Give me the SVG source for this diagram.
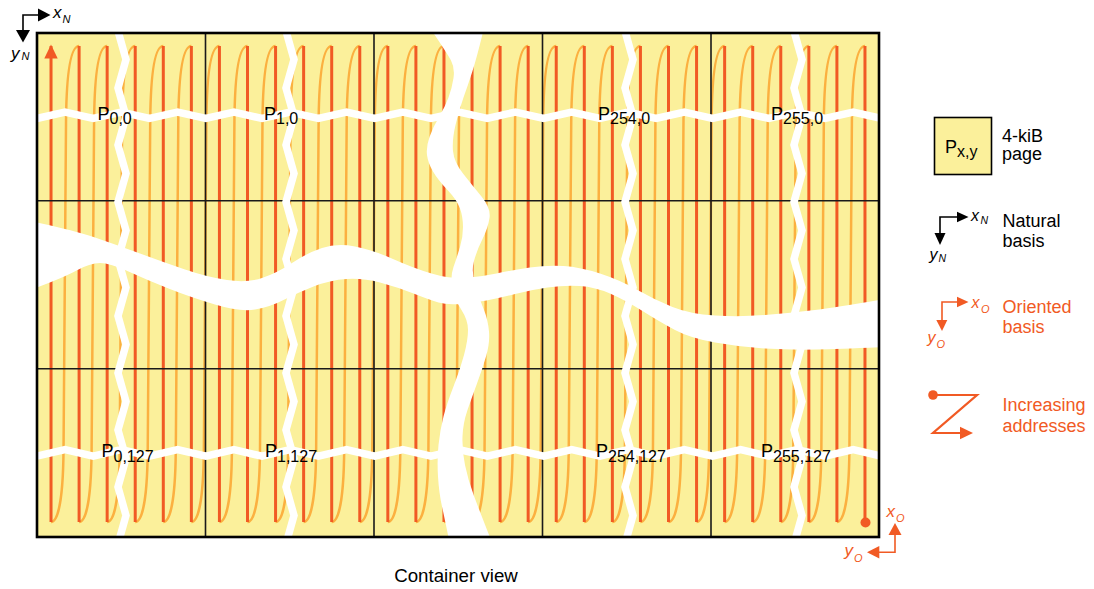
<svg xmlns="http://www.w3.org/2000/svg" width="1094" height="589" viewBox="0 0 1094 589">
<defs>
<style>
.red{stroke:#f15a24;stroke-width:3;fill:none}
.org{stroke:#fbb040;stroke-width:2.5;fill:none}
.grid{stroke:#1a1a1a;stroke-width:1.6;fill:none}
.wz{stroke:#fff;stroke-width:7.5;fill:none;stroke-linejoin:miter}
.wb{fill:#fff;stroke:none}
.t{font-family:"Liberation Sans",Arial,Helvetica,sans-serif;font-size:18px;fill:#000}
.sub{font-size:16px}
.it{font-style:italic}
.o{fill:#f15a24}
.ax{stroke:#000;stroke-width:1.6;fill:none}
.axo{stroke:#f15a24;stroke-width:1.6;fill:none}
</style>
<clipPath id="clip"><rect x="37" y="33" width="842" height="504"/></clipPath>
<g id="unit"><path class="org" d="M0,522 C6,522 12,505 12.5,450 L15,120 C15.5,75 19,46 28.07,46"/><path class="red" d="M0,46 V522"/></g>
<path id="vz" class="wz" d="M117,20 L118,31 L126,59.5 L118,88 L126,116.5 L118,145 L126,173.5 L118,202 L126,230.5 L118,259 L126,287.5 L118,316 L126,344.5 L118,373 L126,401.5 L118,430 L126,458.5 L118,487 L126,515.5 L118,544 L119,550"/>
<path id="hz" class="wz" d="M20,122 L36.8,118.5 L65,112 L93.2,118.5 L121.3,112 L149.5,118.5 L177.6,112 L205.8,118.5 L233.9,112 L262.1,118.5 L290.2,112 L318.4,118.5 L346.5,112 L374.7,118.5 L402.8,112 L431,118.5 L459.1,112 L487.3,118.5 L515.4,112 L543.6,118.5 L571.7,112 L599.9,118.5 L628,112 L656.2,118.5 L684.3,112 L712.5,118.5 L740.6,112 L768.8,118.5 L796.9,112 L825.1,118.5 L853.2,112 L881.4,118.5 L900,114"/>
</defs>

<g id="container">
<rect x="37" y="33" width="842" height="504" fill="#fbf09b"/>
<g clip-path="url(#clip)">
<g id="scan">
<use href="#unit" x="51.03"/><use href="#unit" x="79.10"/><use href="#unit" x="107.16"/><use href="#unit" x="135.23"/><use href="#unit" x="163.30"/><use href="#unit" x="191.37"/>
<use href="#unit" x="219.43"/><use href="#unit" x="247.50"/><use href="#unit" x="275.57"/><use href="#unit" x="303.63"/><use href="#unit" x="331.70"/><use href="#unit" x="359.77"/>
<use href="#unit" x="387.83"/><use href="#unit" x="415.90"/><use href="#unit" x="443.97"/><use href="#unit" x="472.04"/><use href="#unit" x="500.10"/><use href="#unit" x="528.17"/>
<use href="#unit" x="556.24"/><use href="#unit" x="584.30"/><use href="#unit" x="612.37"/><use href="#unit" x="640.44"/><use href="#unit" x="668.50"/><use href="#unit" x="696.57"/>
<use href="#unit" x="724.64"/><use href="#unit" x="752.71"/><use href="#unit" x="780.77"/><use href="#unit" x="808.84"/><use href="#unit" x="836.91"/>
<path class="red" d="M864.97,46 V522"/>
<polygon points="51,44.5 44.3,58.5 57.7,58.5" fill="#f15a24"/>
<circle cx="865.5" cy="522.5" r="5" fill="#f15a24"/>
</g>
<g id="grid">
<path class="grid" d="M205.5,33 V537 M374,33 V537 M542.5,33 V537 M711,33 V537 M37,200.7 H879 M37,368.7 H879"/>
</g>
<g id="breaks">
<path class="wb" d="M30,221 Q73,230 95,237.5 Q117,245 140,253.5 Q163,262 185,269.5 Q207,277 227,280 Q247,283 262,278 Q277,273 292,263 Q307,253 322,248 Q337,243 355,246.5 Q373,250 393,259 Q413,268 431.5,273.5 Q450,279 465,278 Q480,277 496.5,273.5 Q513,270 530,267.5 Q547,265 563.5,266 Q580,267 600,273.5 Q620,280 637.5,290 Q655,300 672.5,307 Q690,314 715,315.5 Q740,317 765,315 Q790,313 815,310 Q840,307 885,299 L885,347 Q840,349 815,349.5 Q790,350 765,348.5 Q740,347 715,342.5 Q690,338 675,330 Q660,322 642.5,311 Q625,300 610,293.5 Q595,287 580,286 Q565,285 547.5,287.5 Q530,290 515,294 Q500,298 486.5,300.5 Q473,303 460,304 Q447,305 438.5,302.5 Q430,300 413.5,293.5 Q397,287 380,282.5 Q363,278 346.5,279 Q330,280 313.5,286.5 Q297,293 283.5,300 Q270,307 255,309.5 Q240,312 215,304.5 Q190,297 168.5,288.5 Q147,280 128.5,271.5 Q110,263 100,263 Q90,263 76.5,270.5 Q63,278 30,290 Z"/>
<path class="wb" d="M430,28 Q447,53 451,60.5 Q455,68 453.5,78 Q452,88 448.5,97.5 Q445,107 439,117 Q433,127 429.5,137 Q426,147 427,155 Q428,163 433,171.5 Q438,180 447.5,190 Q457,200 460,208.5 Q463,217 463,227 Q463,237 460,247 Q457,257 453.5,267 Q450,277 452.5,288.5 Q455,300 461.5,310 Q468,320 468,330 Q468,340 464,355 Q460,370 453.5,386.5 Q447,403 443.5,416.5 Q440,430 438.5,445 Q437,460 438,476.5 Q439,493 442,506.5 Q445,520 449,540 L491,540 Q480,512 474,496 Q468,480 465,465 Q462,450 462.5,436.5 Q463,423 467.5,410 Q472,397 477,383.5 Q482,370 486,356.5 Q490,343 489,331.5 Q488,320 484,310 Q480,300 475.5,286 Q471,272 474,261 Q477,250 482.5,239 Q488,228 489.5,218 Q491,208 481.5,196.5 Q472,185 463,173.5 Q454,162 453,151 Q452,140 455.5,125 Q459,110 463.5,97.5 Q468,85 472.5,71 Q477,57 484,28 Z"/>
<use href="#vz"/>
<use href="#vz" x="168"/>
<use href="#vz" x="507"/>
<use href="#vz" x="676"/>
<use href="#hz"/>
<use href="#hz" y="337.7"/>
</g>
</g>
<rect x="37" y="33" width="842" height="504" fill="none" stroke="#000" stroke-width="2.6"/>
</g>

<g id="labels">
<g id="p0_0"><text class="t" x="97.5" y="120">P<tspan class="sub" dy="4">0,0</tspan></text></g>
<g id="p1_0"><text class="t" x="264" y="120">P<tspan class="sub" dy="4">1,0</tspan></text></g>
<g id="p254_0"><text class="t" x="598" y="120">P<tspan class="sub" dy="4">254,0</tspan></text></g>
<g id="p255_0"><text class="t" x="771" y="120">P<tspan class="sub" dy="4">255,0</tspan></text></g>
<g id="p0_127"><text class="t" x="101.5" y="457">P<tspan class="sub" dy="4.5">0,127</tspan></text></g>
<g id="p1_127"><text class="t" x="265" y="457">P<tspan class="sub" dy="4.5">1,127</tspan></text></g>
<g id="p254_127"><text class="t" x="596" y="457">P<tspan class="sub" dy="4.5">254,127</tspan></text></g>
<g id="p255_127"><text class="t" x="761" y="457">P<tspan class="sub" dy="4.5">255,127</tspan></text></g>
</g>

<g id="natural-axes">
<path class="ax" d="M39,15 H23 V31"/>
<polygon points="38,8.5 50.5,15 38,21.5"/>
<polygon points="16,30 30,30 23,42.5"/>
<text class="t it" x="53" y="18.3" style="font-size:17px">x<tspan dx="1" dy="4.4" style="font-size:11px">N</tspan></text>
<text class="t it" x="11" y="59" style="font-size:17px">y<tspan dx="2" dy="0.5" style="font-size:11px">N</tspan></text>
</g>

<g id="oriented-axes">
<path class="axo" d="M895,535 V552.3 H879"/>
<polygon points="888.5,535 895,523 901.5,535" fill="#f15a24"/>
<polygon points="879.3,546 867,552.3 879.3,558.6" fill="#f15a24"/>
<text class="t it o" x="886.5" y="517.3" style="font-size:17px">x<tspan dx="1" dy="4.4" style="font-size:11px">O</tspan></text>
<text class="t it o" x="844.5" y="556" style="font-size:17px">y<tspan dx="1" dy="5.7" style="font-size:11px">O</tspan></text>
</g>

<text class="t" x="456" y="582" text-anchor="middle" style="font-size:18.7px">Container view</text>

<g id="legend">
<g id="legend-page">
<rect x="934.5" y="117.5" width="57" height="57" fill="#fbf09b" stroke="#000" stroke-width="1.6"/>
<text class="t" x="945" y="153">P<tspan class="sub" dy="4">x,y</tspan></text>
<text class="t" x="1002" y="141.7">4-kiB</text>
<text class="t" x="1002" y="160">page</text>
</g>
<g id="legend-natural">
<path class="ax" d="M957,217 H940 V234"/>
<polygon points="957,211.7 968.5,217 957,222.3"/>
<polygon points="934.5,233 945.5,233 940,245"/>
<text class="t it" x="971" y="220.7" style="font-size:16px">x<tspan dx="1.5" dy="3.5" style="font-size:10.5px">N</tspan></text>
<text class="t it" x="929.5" y="260" style="font-size:16px">y<tspan dx="1" dy="1.7" style="font-size:10.5px">N</tspan></text>
<text class="t" x="1002.5" y="226.7">Natural</text>
<text class="t" x="1002.5" y="246.7">basis</text>
</g>
<g id="legend-oriented">
<path class="axo" d="M957,302 H942 V320"/>
<polygon points="957,296.7 968.5,302 957,307.3" fill="#f15a24"/>
<polygon points="936.3,320 947.3,320 942,331" fill="#f15a24"/>
<text class="t it o" x="971.5" y="308.3" style="font-size:16px">x<tspan dx="1.5" dy="5" style="font-size:11px">O</tspan></text>
<text class="t it o" x="927.5" y="342.5" style="font-size:16px">y<tspan dx="1" dy="5.5" style="font-size:11px">O</tspan></text>
<text class="t o" x="1002.5" y="313.3">Oriented</text>
<text class="t o" x="1002.5" y="333.3">basis</text>
</g>
<g id="legend-addresses">
<circle cx="933" cy="395" r="4.8" fill="#f15a24"/>
<path d="M933,395 H977 L933,433 H962" stroke="#f15a24" stroke-width="2.2" fill="none" stroke-linejoin="miter"/>
<polygon points="960,426.7 973,433 960,439.3" fill="#f15a24"/>
<text class="t o" x="1002.5" y="410.7">Increasing</text>
<text class="t o" x="1002.5" y="431.7">addresses</text>
</g>
</g>
</svg>
